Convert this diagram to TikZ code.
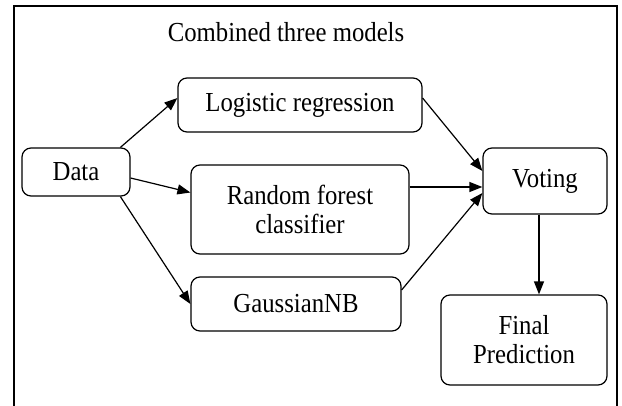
\documentclass[tikz,border=0pt]{standalone}
\usepackage{fontspec}
\setmainfont[FakeStretch=0.9]{Liberation Serif}
\usetikzlibrary{arrows.meta, calc, positioning}

\begin{document}
\begin{tikzpicture}[x=1pt, y=-1pt,
		box/.style={draw, line width=1.2pt, rounded corners=9pt, align=center,
			inner sep=0pt, font=\fontsize{27.5}{29}\selectfont},
		arr/.style={-{Triangle[length=13pt, width=10pt]}, line width=1.2pt}]
		\useasboundingbox (0,0) rectangle (622,405);
		\draw[line width=1.5pt] (14,412) |- (617,6) -- (617,412);
		\node[font=\fontsize{27.5}{29}\selectfont] (title) at (286,32) {Combined three models};
		\node[box, minimum width=108pt, minimum height=48pt] (data)   at ( 76,172)   {Data};
		\node[box, minimum width=244pt, minimum height=54pt] (logreg) at (300,105)   {Logistic regression};
		\node[box, minimum width=218pt, minimum height=89pt] (forest) at (300,209.5) {Random forest\\classifier};
		\node[box, minimum width=210pt, minimum height=54pt] (gauss)  at (296,304)   {GaussianNB};
		\node[box, minimum width=124pt, minimum height=66pt] (vote)   at (545,181)   {Voting};
		\node[box, minimum width=166pt, minimum height=90pt] (final)  at (524,340)   {Final\\Prediction};
		\coordinate (vin) at ([yshift=-6pt]vote.west);
		\draw[arr] (data.29)  -- ([yshift=7pt]logreg.west);
		\draw[arr] ([yshift=-6pt]data.east) -- ([yshift=17pt]forest.west);
		\draw[arr] (data.-29) -- (gauss.west);
		\draw[arr] ([yshift=7pt]logreg.east) -- ([yshift=10pt]vote.west);
		\draw[arr] (vin -| forest.east) -- (vin);
		\draw[arr] ([yshift=14pt]gauss.east) -- ([yshift=-12pt]vote.west);
		\draw[arr] ([xshift=-6pt]vote.south) -- ([xshift=-6pt]vote.south |- final.north);
	\end{tikzpicture}
\end{document}
